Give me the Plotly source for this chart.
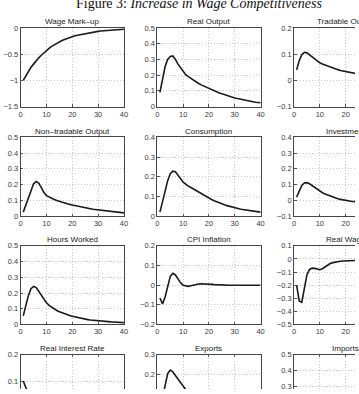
import plotly.graph_objects as go

W, H = 359, 394

periods = list(range(1, 41))

wage_markup = [-1.00, -0.91, -0.83, -0.75, -0.69, -0.62, -0.57, -0.52, -0.47, -0.43,
               -0.39, -0.35, -0.32, -0.29, -0.27, -0.24, -0.22, -0.20, -0.18, -0.17,
               -0.15, -0.14, -0.13, -0.11, -0.10, -0.095, -0.087, -0.079, -0.072, -0.065,
               -0.059, -0.054, -0.049, -0.045, -0.041, -0.037, -0.034, -0.031, -0.028, -0.026]
real_output = [0.09, 0.18, 0.255, 0.30, 0.318, 0.322, 0.30, 0.27, 0.245, 0.222,
               0.203, 0.19, 0.178, 0.167, 0.157, 0.147, 0.138, 0.13, 0.122, 0.114,
               0.107, 0.1, 0.093, 0.087, 0.081, 0.075, 0.069, 0.064, 0.06, 0.055,
               0.051, 0.047, 0.043, 0.04, 0.037, 0.034, 0.031, 0.028, 0.026, 0.024]
tradable_output = [0.04, 0.075, 0.098, 0.107, 0.105, 0.097, 0.088, 0.08, 0.073, 0.067,
                   0.062, 0.058, 0.054, 0.05, 0.047, 0.044, 0.041, 0.038, 0.035, 0.032,
                   0.029, 0.026, 0.023, 0.021, 0.019, 0.017, 0.015, 0.013, 0.011, 0.01,
                   0.009, 0.008, 0.007, 0.006, 0.005, 0.004, 0.004, 0.003, 0.003, 0.002]
nontradable_output = [0.025, 0.07, 0.12, 0.17, 0.205, 0.22, 0.21, 0.18, 0.15, 0.13,
                      0.12, 0.112, 0.105, 0.099, 0.093, 0.088, 0.083, 0.078, 0.074, 0.07,
                      0.066, 0.062, 0.058, 0.055, 0.052, 0.049, 0.046, 0.043, 0.041, 0.038,
                      0.036, 0.034, 0.032, 0.03, 0.028, 0.026, 0.024, 0.022, 0.021, 0.02]
consumption = [0.02, 0.07, 0.13, 0.18, 0.215, 0.228, 0.225, 0.21, 0.19, 0.172,
               0.16, 0.152, 0.145, 0.137, 0.128, 0.12, 0.112, 0.104, 0.097, 0.09,
               0.084, 0.078, 0.072, 0.067, 0.062, 0.057, 0.053, 0.049, 0.045, 0.042,
               0.039, 0.036, 0.033, 0.031, 0.029, 0.027, 0.025, 0.023, 0.021, 0.02]
investment = [0.02, 0.06, 0.095, 0.11, 0.112, 0.105, 0.093, 0.08, 0.068, 0.058,
              0.048, 0.04, 0.033, 0.026, 0.02, 0.015, 0.01, 0.006, 0.002, -0.001,
              -0.004, -0.006, -0.008, -0.009, -0.010, -0.011, -0.011, -0.012, -0.012, -0.012,
              -0.012, -0.012, -0.011, -0.011, -0.011, -0.010, -0.010, -0.010, -0.009, -0.009]
hours_worked = [0.055, 0.12, 0.185, 0.228, 0.242, 0.235, 0.21, 0.182, 0.158, 0.138,
                0.122, 0.109, 0.098, 0.089, 0.081, 0.074, 0.068, 0.062, 0.057, 0.052,
                0.048, 0.044, 0.04, 0.037, 0.034, 0.031, 0.029, 0.027, 0.025, 0.023,
                0.021, 0.02, 0.019, 0.018, 0.017, 0.016, 0.015, 0.014, 0.013, 0.012]
cpi_inflation = [-0.065, -0.095, -0.06, 0.0, 0.045, 0.06, 0.052, 0.032, 0.012, 0.0,
                 -0.005, -0.006, -0.003, 0.001, 0.004, 0.006, 0.007, 0.007, 0.006, 0.005,
                 0.004, 0.003, 0.002, 0.002, 0.001, 0.001, 0.0, 0.0, 0.0, 0.0,
                 0.0, 0.0, 0.0, 0.0, 0.0, 0.0, 0.0, 0.0, 0.0, 0.0]
real_wage = [-0.2, -0.32, -0.33, -0.22, -0.12, -0.08, -0.07, -0.072, -0.08, -0.082,
             -0.075, -0.06, -0.045, -0.035, -0.028, -0.023, -0.02, -0.017, -0.015, -0.013,
             -0.011, -0.009, -0.007, -0.005, -0.004, -0.003, -0.002, -0.001, 0.0, 0.0,
             0.0, 0.0, 0.0, 0.0, 0.0, 0.0, 0.0, 0.0, 0.0, 0.0]
real_interest_rate = [0.1, 0.082, 0.05, 0.015, -0.01, -0.025, -0.03, -0.03, -0.027, -0.023,
                      -0.019, -0.016, -0.013, -0.011, -0.009, -0.008, -0.007, -0.006, -0.005, -0.004,
                      -0.004, -0.003, -0.003, -0.002, -0.002, -0.002, -0.001, -0.001, -0.001, -0.001,
                      0.0, 0.0, 0.0, 0.0, 0.0, 0.0, 0.0, 0.0, 0.0, 0.0]
exports = [0.02, 0.085, 0.155, 0.205, 0.222, 0.213, 0.195, 0.175, 0.155, 0.138,
           0.123, 0.11, 0.098, 0.088, 0.079, 0.071, 0.064, 0.057, 0.051, 0.046,
           0.041, 0.037, 0.033, 0.03, 0.027, 0.024, 0.021, 0.019, 0.017, 0.015,
           0.013, 0.012, 0.011, 0.01, 0.009, 0.008, 0.007, 0.006, 0.005, 0.005]
imports = [0.02, 0.06, 0.1, 0.13, 0.15, 0.16, 0.16, 0.15, 0.14, 0.13,
           0.12, 0.11, 0.1, 0.092, 0.085, 0.078, 0.072, 0.066, 0.061, 0.056,
           0.052, 0.048, 0.044, 0.041, 0.038, 0.035, 0.032, 0.03, 0.028, 0.026,
           0.024, 0.022, 0.02, 0.019, 0.018, 0.017, 0.016, 0.015, 0.014, 0.013]

panel_titles = ["Wage Mark\u2013up", "Real Output", "Tradable Output",
                "Non\u2013tradable Output", "Consumption", "Investment",
                "Hours Worked", "CPI Inflation", "Real Wage",
                "Real Interest Rate", "Exports", "Imports"]
panel_series = [wage_markup, real_output, tradable_output,
                nontradable_output, consumption, investment,
                hours_worked, cpi_inflation, real_wage,
                real_interest_rate, exports, imports]
panel_yranges = [(-1.5, 0), (0, 0.5), (-0.1, 0.2),
                 (0, 0.5), (0, 0.4), (-0.1, 0.4),
                 (0, 0.5), (-0.2, 0.2), (-0.5, 0.1),
                 (-0.1, 0.2), (-0.1, 0.3), (0, 0.5)]
panel_dticks = [0.5, 0.1, 0.1, 0.1, 0.1, 0.1, 0.1, 0.1, 0.1, 0.1, 0.1, 0.1]
x_max = 40
x_tick_step = 10

col_left = [19, 158, 297]
box_w = 105
row_top = [24.5, 136.5, 247.5, 359]
box_h = 80.5

fig = go.Figure()
axis_font = dict(family="Liberation Sans, Arial, sans-serif", size=7.5, color="#3a3a3a")
annotations = []

for i, (title, ys) in enumerate(zip(panel_titles, panel_series)):
    r, c = divmod(i, 3)
    n = i + 1
    x0 = col_left[c]
    x1 = x0 + box_w
    vis_x1 = min(x1, W)
    top = row_top[r]
    bot = top + box_h
    vis_bot = min(bot, H)
    ymin, ymax = panel_yranges[i]
    xr = [0, x_max * (vis_x1 - x0) / box_w]
    yr = [ymax - (ymax - ymin) * (vis_bot - top) / box_h, ymax]
    cut_right = x1 > W
    cut_bottom = bot > H

    xname = "x" if n == 1 else f"x{n}"
    yname = "y" if n == 1 else f"y{n}"
    fig.add_trace(go.Scatter(x=periods, y=ys, mode="lines",
                             line=dict(color="#1a1a1a", width=1.6),
                             xaxis=xname, yaxis=yname, showlegend=False,
                             hoverinfo="skip"))
    xkey = "xaxis" if n == 1 else f"xaxis{n}"
    ykey = "yaxis" if n == 1 else f"yaxis{n}"
    grid = dict(showgrid=True, gridcolor="#b8b8b8", griddash="1px,2px", gridwidth=0.8)
    fig.layout[xkey] = dict(
        domain=[x0 / W, vis_x1 / W], range=xr, anchor=yname,
        tick0=0, dtick=x_tick_step, zeroline=False,
        showline=True, linecolor="#333", linewidth=0.9,
        mirror=(not cut_bottom), side=("top" if cut_bottom else "bottom"),
        showticklabels=(not cut_bottom),
        ticks="inside", ticklen=2.5, tickcolor="#333", tickwidth=0.8,
        tickfont=axis_font, fixedrange=True, **grid)
    fig.layout[ykey] = dict(
        domain=[1 - vis_bot / H, 1 - top / H], range=yr, anchor=xname,
        tick0=0, dtick=panel_dticks[i], zeroline=False,
        showline=True, linecolor="#333", linewidth=0.9,
        mirror=(not cut_right),
        ticks="inside", ticklen=2.5, tickcolor="#333", tickwidth=0.8,
        tickfont=axis_font, fixedrange=True, **grid)
    annotations.append(dict(
        text=title, xref="paper", yref="paper",
        x=(x0 + box_w / 2) / W, y=1 - (top - 6.5) / H,
        xanchor="center", yanchor="middle", showarrow=False,
        font=dict(family="Liberation Sans, Arial, sans-serif", size=8, color="#222")))

annotations.append(dict(
    text="Figure 3: <i>Increase in Wage Competitiveness</i>",
    xref="paper", yref="paper", x=200 / W, y=1 - 9 / H,
    xanchor="center", yanchor="bottom", showarrow=False,
    font=dict(family="Liberation Serif, Times New Roman, serif", size=14, color="#111")))

fig.update_layout(width=W, height=H, margin=dict(l=0, r=0, t=0, b=0),
                  paper_bgcolor="white", plot_bgcolor="white",
                  annotations=annotations, hovermode=False)

fig.write_html("out.html", config={"displayModeBar": False, "staticPlot": True})
